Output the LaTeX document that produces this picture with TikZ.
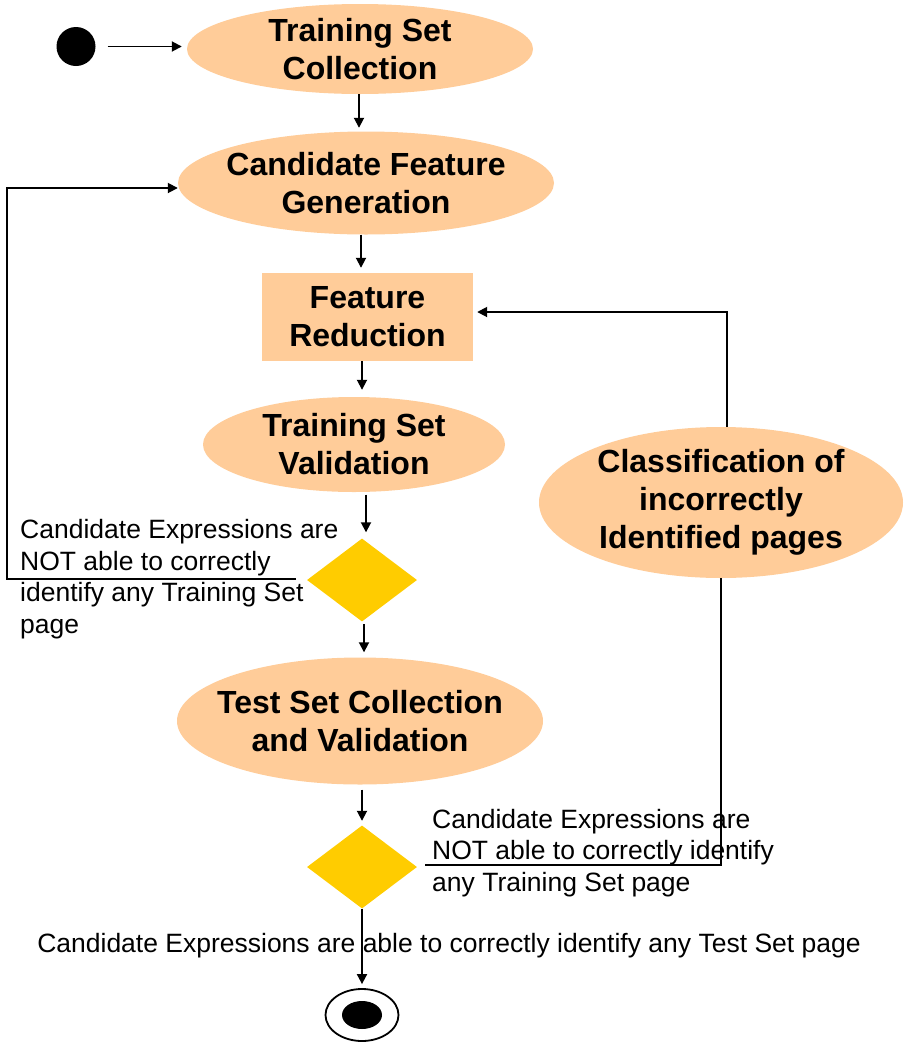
\documentclass[tikz,border=0pt]{standalone}
\usepackage{fontspec}
\setmainfont{Liberation Sans}
\usetikzlibrary{shapes.geometric,arrows.meta}
\definecolor{peach}{HTML}{FFCC99}
\definecolor{gold}{HTML}{FFCC00}
\newcommand\actfont{\fontsize{32}{38}\selectfont\bfseries}
\newcommand\notefont{\fontsize{26.5}{31.5}\selectfont}
\begin{document}
\begin{tikzpicture}[x=1pt,y=-1pt,
  act/.style={ellipse, fill=peach, inner sep=0pt, align=center, font=\actfont},
  actbox/.style={rectangle, fill=peach, inner sep=0pt, align=center, font=\actfont},
  dec/.style={diamond, fill=gold, inner sep=0pt, minimum width=110pt, minimum height=83pt},
  startdot/.style={circle, fill=black, inner sep=0pt, minimum size=39pt},
  note/.style={inner sep=0pt, align=left, font=\notefont},
  conn/.style={line width=1.8pt, draw=black},
  arr/.style={conn, -{Triangle[length=10pt,width=10pt]}}]
\useasboundingbox (0,0) rectangle (903,1042);

% nodes
\node[startdot] (start) at (76,46.5) {};
\node[act, minimum width=346pt, minimum height=90pt] (tsc) at (360,49) {Training Set\\Collection};
\node[act, inner xsep=-7pt, minimum width=376pt, minimum height=103pt] (cfg) at (366,183) {Candidate Feature\\Generation};
\node[actbox, minimum width=211pt, minimum height=88pt] (fr) at (367.5,317) {Feature\\Reduction};
\node[act, minimum width=302pt, minimum height=95pt] (tsv) at (354,444.5) {Training Set\\Validation};
\node[dec] (d1) at (362,580) {};
\node[act, inner xsep=-13.5pt, minimum width=366pt, minimum height=127pt] (tscv) at (360,721) {Test Set Collection\\and Validation};
\node[dec] (d2) at (362,867) {};
\node[act, minimum width=364pt, minimum height=151pt] (cls) at (721,502.5) {Classification of\\incorrectly\\Identified pages};
\node[draw, ellipse, line width=1.8pt, minimum width=73pt, minimum height=52pt, inner sep=0pt] (end) at (362,1015) {};
\node[ellipse, fill=black, minimum width=40pt, minimum height=28pt, inner sep=0pt] (endcore) at (end.center) {};

% notes (base anchor = baseline of last line)
\node[note, anchor=base west] (n1) at (20,633) {Candidate Expressions are\\NOT able to correctly\\identify any Training Set\\page};
\node[note, anchor=base west] (n2) at (432,891) {Candidate Expressions are\\NOT able to correctly identify\\any Training Set page};
\node[note, anchor=base] (n3) at (449,952) {Candidate Expressions are able to correctly identify any Test Set page};

% helper coordinates
\coordinate (l0) at (296,579);
\coordinate (l1) at (7,579);
\coordinate (l2) at (7,188);
\coordinate (r0) at (425,865);
\coordinate (r1) at (727,312);

% connectors
\draw[arr, shorten <=12pt, shorten >=5pt] (start) -- (start -| tsc.west);
\draw[arr, shorten >=3.5pt] ([xshift=-1pt]tsc.south) -- ([xshift=-1pt]tsc.south |- cfg.north);
\draw[arr, shorten >=5pt] ([xshift=-5pt]cfg.south) -- ([xshift=-5pt]cfg.south |- fr.north);
\draw[arr, shorten >=7pt] (fr.south -| d1) -- (tsv.north -| d1);
\draw[arr, shorten <=2.5pt, shorten >=6pt] ([xshift=4pt]d1.north |- tsv.south) -- ([xshift=4pt]d1.north);
\draw[arr, shorten <=2.5pt, shorten >=5pt] ([xshift=2pt]d1.south) -- ([xshift=2pt]d1.south |- tscv.north);
\draw[arr, shorten <=5pt, shorten >=4.5pt] (tscv.south -| d2) -- (d2.north);
\draw[arr, shorten >=4pt] (d2.south) -- (end.north);
\draw[arr] (l0) -- (l1) -- (l2) -- (l2 -| cfg.west);
\draw[conn] (r0) -- (r0 -| cls.south) -- (cls.south);
\draw[arr, shorten >=4pt] (cls.north -| r1) -- (r1) -- (r1 -| fr.east);
\end{tikzpicture}
\end{document}
